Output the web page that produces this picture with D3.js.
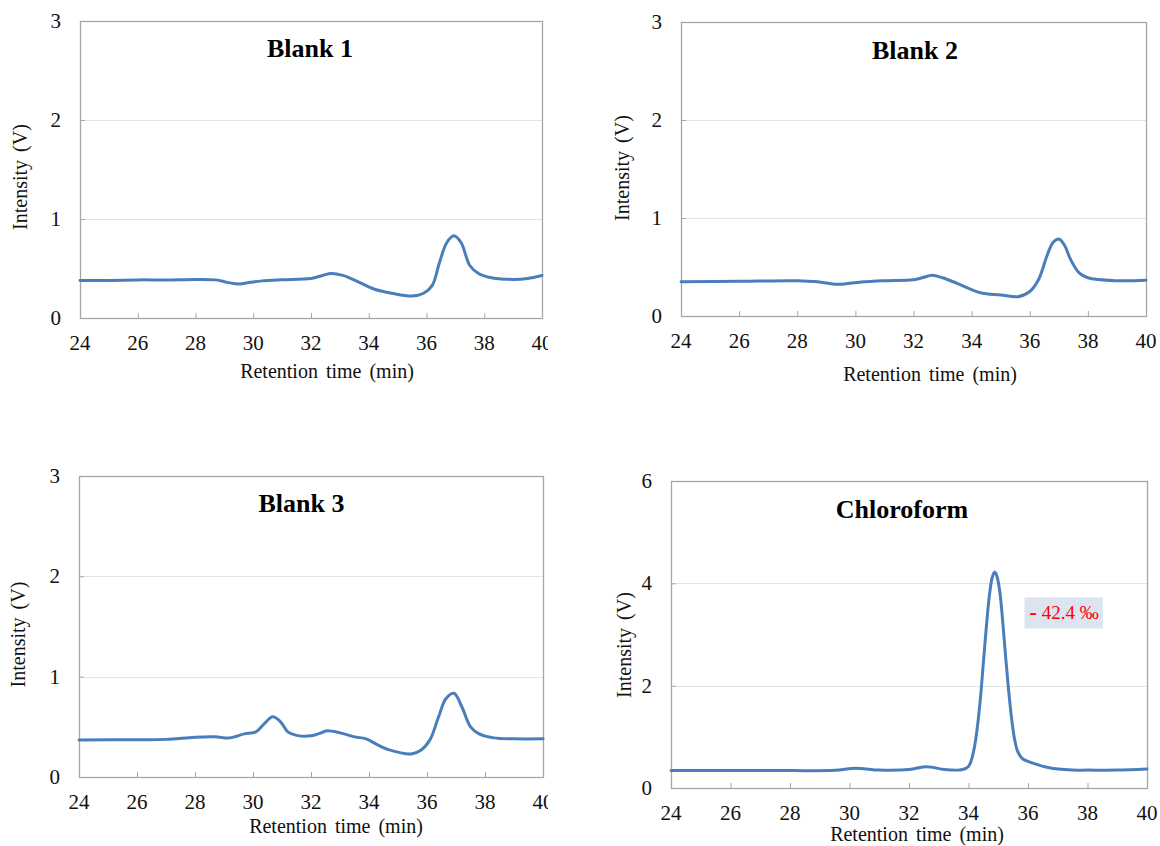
<!DOCTYPE html>
<html><head><meta charset="utf-8">
<script src="https://cdn.jsdelivr.net/npm/d3@7"></script>
<style>body{margin:0;background:#fff}svg{display:block}</style>
</head><body>
<svg id="c" width="1160" height="846"></svg>
<script>
// ---------- data ----------
const panelTitles = ["Blank 1", "Blank 2", "Blank 3", "Chloroform"];
const xTicks = [24, 26, 28, 30, 32, 34, 36, 38, 40];
const yTicksBlank = [0, 1, 2, 3];
const yTicksChloroform = [0, 2, 4, 6];
const xAxisTitle = "Retention time (min)";
const yAxisTitle = "Intensity (V)";

const blank1Time   = [24,25,26,27,28,28.7,29.1,29.5,29.9,30.3,31,32,32.4,32.7,33.1,33.6,34.2,34.8,35.5,35.9,36.2,36.45,36.7,36.95,37.2,37.5,37.8,38.2,39,39.5,40];
const blank1Signal = [0.38,0.38,0.385,0.385,0.39,0.385,0.36,0.343,0.36,0.375,0.387,0.40,0.43,0.45,0.43,0.37,0.29,0.25,0.222,0.25,0.33,0.56,0.76,0.83,0.76,0.53,0.45,0.41,0.39,0.40,0.43];

const blank2Time   = [24,26,28,28.7,29.4,30.2,31,32,32.3,32.65,33,33.5,34.3,35,35.6,36,36.3,36.6,36.8,37.0,37.2,37.4,37.7,38,39,40];
const blank2Signal = [0.35,0.355,0.36,0.35,0.323,0.347,0.36,0.37,0.39,0.415,0.39,0.333,0.238,0.215,0.197,0.25,0.37,0.62,0.75,0.786,0.72,0.58,0.44,0.39,0.36,0.365];

const blank3Time   = [24,26,27,28,28.7,29.2,29.7,30.1,30.4,30.68,30.95,31.2,31.5,32,32.3,32.55,33,33.5,33.9,34.3,34.7,35.45,35.8,36.1,36.4,36.65,36.93,37.2,37.5,37.8,38.3,39,40];
const blank3Signal = [0.37,0.372,0.375,0.396,0.40,0.39,0.43,0.45,0.535,0.60,0.55,0.45,0.415,0.41,0.435,0.46,0.44,0.40,0.38,0.32,0.27,0.23,0.27,0.37,0.60,0.78,0.835,0.70,0.50,0.43,0.39,0.38,0.38];

const chloroformTime   = [24,26,28,29.5,30.2,31,32,32.6,33.2,33.8,34.0,34.1,34.2,34.3,34.4,34.5,34.6,34.7,34.8,34.88,34.95,35.05,35.15,35.25,35.35,35.45,35.55,35.65,35.8,36.0,36.3,36.6,37.0,37.5,38,39,40];
const chloroformSignal = [0.34,0.34,0.34,0.345,0.385,0.35,0.36,0.417,0.36,0.36,0.42,0.55,0.80,1.20,1.75,2.45,3.15,3.75,4.12,4.22,4.15,3.85,3.25,2.55,1.90,1.35,0.95,0.72,0.58,0.52,0.46,0.41,0.37,0.35,0.35,0.35,0.37];

const annotationSign = "-";
const annotationValue = "42.4 \u2030";
const annotationTime = 36.05;
const annotationLevel = 3.42;

// ---------- layout ----------
const panels = [
  {title: panelTitles[0], t: blank1Time, v: blank1Signal, yMax: 3, yTicks: yTicksBlank,
   l: 80, r: 542, top: 21, b: 318, clipR: 548, titleXY: [310, 48], xtXY: [327, 372], ytXY: [20.6, 177]},
  {title: panelTitles[1], t: blank2Time, v: blank2Signal, yMax: 3, yTicks: yTicksBlank,
   l: 681, r: 1146, top: 22, b: 316, clipR: 1160, titleXY: [915, 50], xtXY: [930, 375], ytXY: [623, 168]},
  {title: panelTitles[2], t: blank3Time, v: blank3Signal, yMax: 3, yTicks: yTicksBlank,
   l: 79, r: 543, top: 476, b: 777, clipR: 548, titleXY: [301.5, 503], xtXY: [336, 827], ytXY: [18.5, 634.5]},
  {title: panelTitles[3], t: chloroformTime, v: chloroformSignal, yMax: 6, yTicks: yTicksChloroform,
   l: 671, r: 1147, top: 481, b: 788, clipR: 1160, titleXY: [902, 509], xtXY: [917, 835], ytXY: [624.5, 645], annot: true}
];

const svg = d3.select("#c");
const FONT = "'Liberation Serif','Times New Roman',serif";
const lineColor = "#4a7ebb";
const frameColor = "#a6a6a6";
const gridColor = "#e3e3e3";

panels.forEach((p, i) => {
  const clipId = "clip" + i;
  svg.append("clipPath").attr("id", clipId)
    .append("rect").attr("x", 0).attr("y", 0).attr("width", p.clipR).attr("height", 846);
  const g = svg.append("g").attr("clip-path", `url(#${clipId})`);

  const x = d3.scaleLinear().domain([24, 40]).range([p.l, p.r]);
  const y = d3.scaleLinear().domain([0, p.yMax]).range([p.b, p.top]);

  // gridlines
  g.selectAll(".grid").data(p.yTicks.filter(d => d > 0 && d < p.yMax)).enter()
    .append("line")
    .attr("x1", p.l).attr("x2", p.r)
    .attr("y1", d => Math.round(y(d)) + 0.5).attr("y2", d => Math.round(y(d)) + 0.5)
    .attr("stroke", gridColor).attr("stroke-width", 1);

  // x axis (ticks pointing inward)
  const xAxis = d3.axisTop(x).tickValues(xTicks).tickSize(5).tickFormat("");
  const xa = g.append("g").attr("transform", `translate(0,${p.b})`).call(xAxis);
  xa.select(".domain").remove();
  xa.selectAll("line").attr("stroke", frameColor);

  // y axis ticks inward
  const yAxis = d3.axisRight(y).tickValues(p.yTicks).tickSize(5).tickFormat("");
  const ya = g.append("g").attr("transform", `translate(${p.l},0)`).call(yAxis);
  ya.select(".domain").remove();
  ya.selectAll("line").attr("stroke", frameColor);

  // frame
  g.append("rect")
    .attr("x", p.l + 0.5).attr("y", p.top + 0.5)
    .attr("width", p.r - p.l).attr("height", p.b - p.top)
    .attr("fill", "none").attr("stroke", frameColor).attr("stroke-width", 1.3);

  // x tick labels
  g.selectAll(".xl").data(xTicks).enter().append("text")
    .attr("x", d => x(d)).attr("y", p.b + 32)
    .attr("text-anchor", "middle")
    .attr("font-family", FONT).attr("font-size", 21).attr("fill", "#111")
    .text(d => d);

  // y tick labels
  g.selectAll(".yl").data(p.yTicks).enter().append("text")
    .attr("x", p.l - 19).attr("y", d => y(d) + 7)
    .attr("text-anchor", "end")
    .attr("font-family", FONT).attr("font-size", 21).attr("fill", "#111")
    .text(d => d);

  // line
  const pts = p.t.map((t, k) => [t, p.v[k]]);
  const line = d3.line().x(d => x(d[0])).y(d => y(d[1])).curve(d3.curveCatmullRom.alpha(0.5));
  g.append("path").datum(pts).attr("d", line)
    .attr("fill", "none").attr("stroke", lineColor).attr("stroke-width", 3)
    .attr("stroke-linejoin", "round").attr("stroke-linecap", "round");

  // panel title
  g.append("text").attr("x", p.titleXY[0]).attr("y", p.titleXY[1] + 9)
    .attr("text-anchor", "middle")
    .attr("font-family", FONT).attr("font-size", 26).attr("font-weight", "bold").attr("fill", "#000")
    .text(p.title);

  // x axis title
  g.append("text").attr("x", p.xtXY[0]).attr("y", p.xtXY[1] + 6)
    .attr("text-anchor", "middle")
    .attr("font-family", FONT).attr("font-size", 20).attr("fill", "#111")
    .attr("word-spacing", 3)
    .text(xAxisTitle);

  // y axis title
  g.append("text")
    .attr("transform", `translate(${p.ytXY[0] + 6},${p.ytXY[1]}) rotate(-90)`)
    .attr("text-anchor", "middle")
    .attr("font-family", FONT).attr("font-size", 20).attr("fill", "#111")
    .attr("word-spacing", 3)
    .text(yAxisTitle);

  // annotation
  if (p.annot) {
    const ax = x(annotationTime), ay = y(annotationLevel);
    const tg = g.append("g");
    const txt = tg.append("text").attr("x", ax).attr("y", ay + 6)
      .attr("font-family", FONT).attr("font-size", 19).attr("fill", "#ff0000");
    txt.append("tspan").attr("font-weight", "bold").attr("font-size", 22).text(annotationSign);
    txt.append("tspan").attr("dx", 5).text(annotationValue);
    const bb = txt.node().getBBox();
    tg.insert("rect", "text")
      .attr("x", bb.x - 5).attr("y", ay - 15.5)
      .attr("width", bb.width + 9).attr("height", 31)
      .attr("fill", "#dbe4f0");
  }
});
</script>
</body></html>
